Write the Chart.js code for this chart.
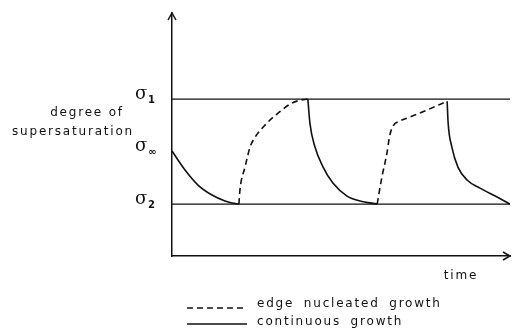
<!DOCTYPE html>
<html>
<head>
<meta charset="utf-8">
<script src="https://cdn.jsdelivr.net/npm/chart.js@4/dist/chart.umd.min.js"></script>
<style>
  html, body { margin: 0; padding: 0; background: #fff; }
  #wrap { width: 512px; height: 335px; }
</style>
</head>
<body>
<div id="wrap"><canvas id="grafik"></canvas></div>
<script>
// levels of supersaturation (sigma2 = 0, sigma1 = 1)
const sigma1 = 1;
const sigma2 = 0;
const sigmaInf = 0.505;
const timeMax = 10;

// continuous growth pieces (time, supersaturation)
const solid1 = [[0, 0.505], [0.385, 0.324], [0.769, 0.181], [1.183, 0.086], [1.568, 0.029], [1.775, 0.01], [1.98, 0]];
const solid2 = [[4.02, 1], [4.08, 0.771], [4.23, 0.543], [4.47, 0.352], [4.76, 0.2], [5.18, 0.076], [5.56, 0.029], [6.07, 0]];
const solid3 = [[8.14, 0.98], [8.17, 0.771], [8.28, 0.543], [8.46, 0.352], [8.73, 0.229], [9.11, 0.152], [9.62, 0.067], [10, 0]];

// edge nucleated growth pieces
const dashed1 = [[1.98, 0], [2.01, 0.133], [2.16, 0.352], [2.31, 0.543], [2.46, 0.638], [2.75, 0.752], [3.14, 0.867], [3.55, 0.962], [3.88, 0.995], [4.02, 1]];
const dashed2 = [[6.07, 0], [6.21, 0.257], [6.36, 0.486], [6.44, 0.65], [6.54, 0.743], [6.7, 0.785], [7.04, 0.829], [7.54, 0.895], [8.14, 0.98]];

const legendLabels = ['edge nucleated growth', 'continuous growth'];

function pts(arr) {
    return arr.map(p => ({ x: p[0], y: p[1] }));
}

function kurva(arr, dashed) {
    return {
        data: pts(arr),
        showLine: true,
        borderColor: '#111',
        borderWidth: 1.6,
        borderDash: dashed ? [6, 4] : [],
        pointRadius: 0,
        cubicInterpolationMode: 'monotone',
        fill: false
    };
}

function garis(level) {
    return {
        data: [{ x: 0, y: level }, { x: timeMax, y: level }],
        showLine: true,
        borderColor: '#111',
        borderWidth: 1.2,
        pointRadius: 0
    };
}

// labels, arrows and legend
const hiasan = {
    id: 'hiasan',
    afterDraw(chart) {
        const c = chart.ctx;
        const xs = chart.scales.x;
        const ys = chart.scales.y;
        const x0 = xs.left;
        const yb = ys.bottom;
        c.save();
        c.strokeStyle = '#111';
        c.fillStyle = '#111';
        c.lineWidth = 1.5;

        // arrows
        c.beginPath();
        c.moveTo(x0 - 4, ys.top + 7);
        c.lineTo(x0, ys.top);
        c.lineTo(x0 + 4, ys.top + 7);
        c.moveTo(xs.right - 7, yb - 4);
        c.lineTo(xs.right, yb);
        c.lineTo(xs.right - 7, yb + 4);
        c.stroke();

        // sigma labels
        c.textBaseline = 'middle';
        c.textAlign = 'left';
        const sig = [[sigma1, '1'], [sigmaInf, '\u221e'], [sigma2, '2']];
        sig.forEach(s => {
            const py = ys.getPixelForValue(s[0]);
            c.font = '18px "DejaVu Serif"';
            c.fillText('\u03c3', 135, py - 5);
            c.font = 'bold 10px "DejaVu Sans"';
            c.fillText(s[1], 148, py + 1);
        });

        c.font = '12px "DejaVu Sans"';
        c.letterSpacing = '1.8px';
        c.textAlign = 'center';
        c.fillText('degree of', 87, 113);
        c.fillText('supersaturation', 73, 132);
        c.fillText('time', 461, 276);

        // legend
        c.textAlign = 'left';
        c.wordSpacing = '4px';
        c.lineWidth = 1.3;
        c.setLineDash([6, 4]);
        c.beginPath();
        c.moveTo(187, 308);
        c.lineTo(247, 308);
        c.stroke();
        c.setLineDash([]);
        c.beginPath();
        c.moveTo(187, 324);
        c.lineTo(247, 324);
        c.stroke();
        c.fillText(legendLabels[0], 257, 304);
        c.fillText(legendLabels[1], 257, 322);
        c.restore();
    }
};

const ctx = document.getElementById('grafik').getContext('2d');
const grafik = new Chart(ctx, {
    type: 'scatter',
    data: {
        datasets: [
            garis(sigma1),
            garis(sigma2),
            kurva(solid1, false),
            kurva(solid2, false),
            kurva(solid3, false),
            kurva(dashed1, true),
            kurva(dashed2, true)
        ]
    },
    options: {
        responsive: true,
        maintainAspectRatio: false,
        animation: false,
        layout: { padding: { left: 172, right: 2, top: 13, bottom: 79 } },
        plugins: {
            legend: { display: false },
            tooltip: { enabled: false }
        },
        scales: {
            x: {
                type: 'linear',
                min: 0,
                max: timeMax,
                grid: { display: false, drawTicks: false },
                border: { display: true, color: '#111', width: 1.5 },
                ticks: { display: false }
            },
            y: {
                type: 'linear',
                min: -0.495,
                max: 1.82,
                grid: { display: false, drawTicks: false },
                border: { display: true, color: '#111', width: 1.5 },
                ticks: { display: false }
            }
        }
    },
    plugins: [hiasan]
});
</script>
</body>
</html>
